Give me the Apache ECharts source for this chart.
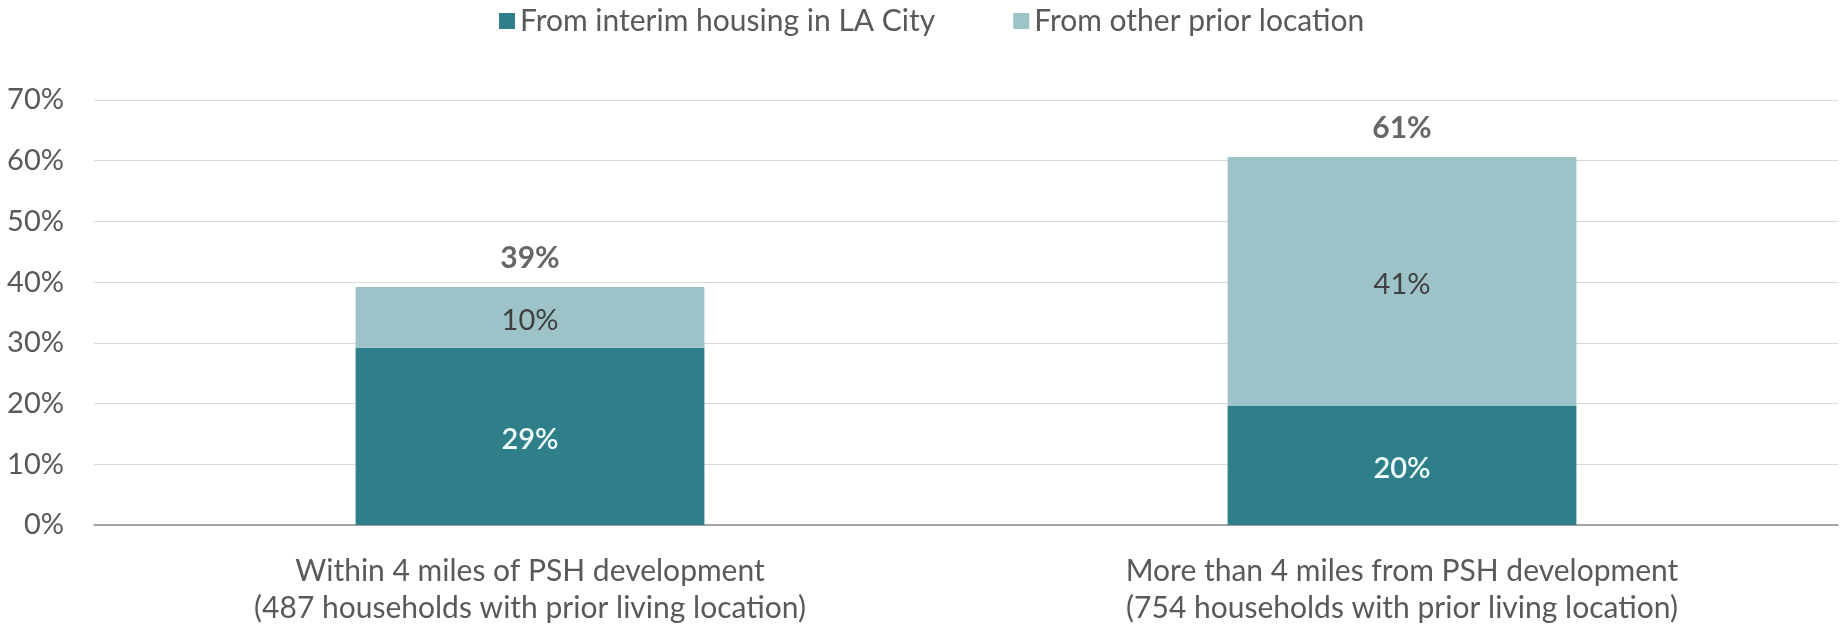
<!DOCTYPE html>
<html>
<head>
<meta charset="utf-8">
<script src="https://cdn.jsdelivr.net/npm/echarts@6/dist/echarts.min.js"></script>
<style>
html,body{margin:0;padding:0;background:#fff;}
#chart{width:1841px;height:627px;}
</style>
</head>
<body>
<div id="chart"></div>
<script>
const categories = [
  'Within 4 miles of PSH development\n(487 households with prior living location)',
  'More than 4 miles from PSH development\n(754 households with prior living location)'
];
const seriesNames = ['From interim housing in LA City', 'From other prior location'];
const interimValues = [29.2, 19.6];
const otherValues = [10.0, 41.0];
const totalValues = [39.2, 60.6];
const yTicks = [0, 10, 20, 30, 40, 50, 60, 70];

const FONT = 'Lato, sans-serif';
const chart = echarts.init(document.getElementById('chart'), null, {renderer: 'canvas'});
chart.setOption({
  animation: false,
  backgroundColor: '#ffffff',
  textStyle: {fontFamily: FONT},
  legend: {
    top: 1,
    left: 494,
    itemWidth: 16,
    itemHeight: 16,
    itemGap: 78,
    icon: 'rect',
    textStyle: {fontSize: 30, color: '#595959', fontFamily: FONT},
    data: seriesNames
  },
  grid: {left: 94, right: 3, top: 100, bottom: 102, containLabel: false, outerBoundsMode: 'none'},
  xAxis: {
    type: 'category',
    data: categories,
    axisLine: {lineStyle: {color: '#8c8c8c', width: 1.5}},
    axisTick: {show: false},
    axisLabel: {fontSize: 30, color: '#595959', lineHeight: 37, margin: 28, fontFamily: FONT}
  },
  yAxis: {
    type: 'value',
    min: yTicks[0],
    max: yTicks[yTicks.length - 1],
    interval: 10,
    axisLine: {show: false},
    axisTick: {show: false},
    splitLine: {lineStyle: {color: '#d9d9d9', width: 1.2}},
    axisLabel: {fontSize: 29, color: '#595959', margin: 30, formatter: v => v + '%', fontFamily: FONT}
  },
  series: [
    {
      name: seriesNames[0],
      type: 'bar',
      stack: 'total',
      barWidth: '40%',
      data: interimValues,
      itemStyle: {color: '#2e7f8a'},
      label: {show: true, position: 'inside', offset: [0, 3], color: '#eefcfc', fontSize: 29, fontWeight: 600,
        formatter: p => Math.round(p.value) + '%'}
    },
    {
      name: seriesNames[1],
      type: 'bar',
      stack: 'total',
      barWidth: '40%',
      data: otherValues,
      itemStyle: {color: '#9dc2c7'},
      label: {show: true, position: 'inside', offset: [0, 3], color: '#404040', fontSize: 29,
        formatter: p => Math.round(p.value) + '%'}
    },
    {
      name: 'Total',
      type: 'scatter',
      data: totalValues,
      symbolSize: 0,
      silent: true,
      label: {show: true, position: 'top', distance: 14, color: '#404040', fontSize: 30, fontWeight: 'bold',
        formatter: p => Math.round(p.value) + '%'}
    }
  ]
});
</script>
</body>
</html>
